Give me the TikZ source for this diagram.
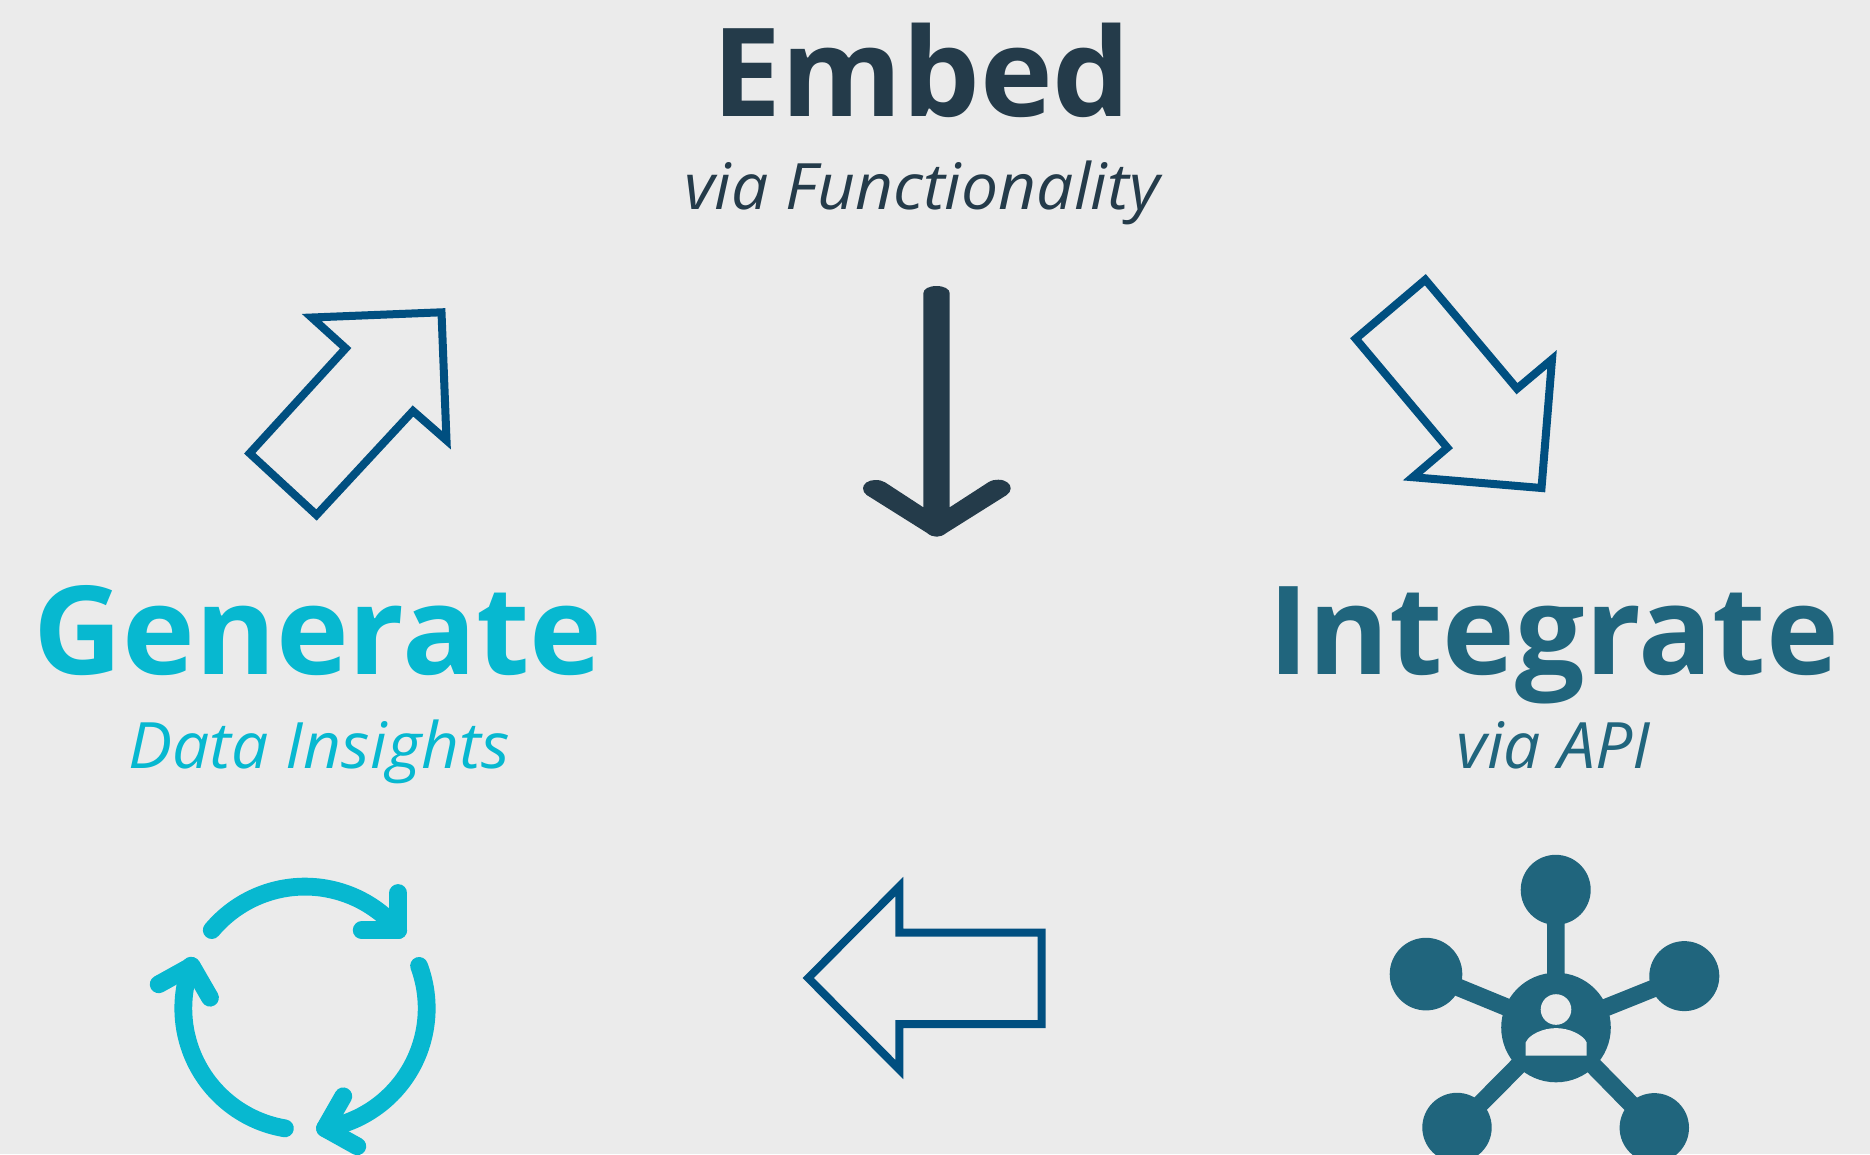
\documentclass[tikz,border=0pt]{standalone}
\usepackage{fontspec}
\setmainfont{Open Sans}
\definecolor{bg}{HTML}{EBEBEB}
\definecolor{navy}{HTML}{243B4A}
\definecolor{cyanb}{HTML}{07B8D0}
\definecolor{teal}{HTML}{20657D}
\definecolor{outl}{HTML}{004F80}
\begin{document}
\begin{tikzpicture}[x=1pt,y=-1pt,
 hd/.style={inner sep=0pt,anchor=base,font=\fontsize{123}{123}\selectfont\bfseries},
 sb/.style={inner sep=0pt,anchor=base,font=\fontsize{64}{64}\selectfont\itshape\addfontfeatures{FakeStretch=1.03,LetterSpace=0.1}},
 hollow/.style={draw=outl,line width=8pt,miter limit=12,fill=none},
 cyc/.style={draw=cyanb,line width=17.8pt,line cap=round,line join=round},
 spoke/.style={draw=teal,line width=17.6pt}]
\fill[bg] (0,0) rectangle (1870,1154);
\useasboundingbox (0,0) rectangle (1870,1154);
% texts
\node[hd,text=navy] (embed) at (921.5,116) {Embed};
\node[sb,text=navy] (func) at (922,209.5) {via Functionality};
\node[hd,text=cyanb] (gen) at (318,674.5) {Generate};
\node[sb,text=cyanb] (ins) at (319,768) {Data Insights};
\node[hd,text=teal] (integ) at (1553.5,674.5) {Integrate};
\node[sb,text=teal] (api) at (1553.6,768) {via API};
% down arrow
\fill[navy] (923.3,293.3) .. controls (923.3,289) and (929,286) .. (936.5,286)
  .. controls (944,286) and (949.7,289) .. (949.7,293.3) -- (949.7,507.3) -- (988.3,482.3)
  .. controls (992,480) and (995,479.7) .. (998.3,479.7)
  .. controls (1006,479.7) and (1010.7,484) .. (1010.7,488.3)
  .. controls (1010.7,491) and (1009,493.5) .. (1006.7,495) -- (946.7,532.7)
  .. controls (943,535.5) and (940,536.7) .. (936.7,536.7)
  .. controls (933,536.7) and (930,535.5) .. (926.7,532.7) -- (866.7,495)
  .. controls (864.5,493.5) and (863,491) .. (863,488.3)
  .. controls (863,484) and (868,480) .. (875,480)
  .. controls (879,480) and (882,480.5) .. (885,482.3) -- (923.3,507.3) -- cycle;
% hollow arrows
\draw[hollow] (441.5,312.3) -- (446.5,440.3) -- (413,411) -- (316.5,515) -- (249.7,453.3) -- (345.7,348.3) -- (311.7,317.5) -- cycle;
\draw[hollow] (1425.3,279.7) -- (1517,388.7) -- (1552,359.3) -- (1541.5,488) -- (1412.7,477.2) -- (1447.3,447.7) -- (1355.7,338.7) -- cycle;
\draw[hollow] (808.2,978) -- (899.3,886.5) -- (899.3,932.5) -- (1041.7,932.5) -- (1041.7,1024) -- (899.3,1024) -- (899.3,1069.5) -- cycle;
% cycle icon
\coordinate (cc) at (305,1008.3);
\draw[cyc] ([shift={(-140:121.7)}]cc) arc[start angle=-140,end angle=-40,radius=121.7];
\draw[cyc] ([shift={(-20.4:121.7)}]cc) arc[start angle=-20.4,end angle=80.5,radius=121.7];
\draw[cyc] ([shift={(99.5:121.7)}]cc) arc[start angle=99.5,end angle=200.5,radius=121.7];
\draw[cyc] (398.3,893) -- (398.3,930.3) -- (361.7,930.3);
\draw[cyc] (343.3,1096.3) -- (325,1128.3) -- (357.3,1146.3);
\draw[cyc] (158.7,984.3) -- (191.7,966) -- (210,997.7);
% network icon
\coordinate (hub) at (1556,1027.5);
\coordinate (nt) at (1555.7,889.8);
\coordinate (nl) at (1426,974.1);
\coordinate (nr) at (1684.3,976.1);
\coordinate (nbl) at (1457,1127.5);
\coordinate (nbr) at (1654.3,1127.8);
\draw[spoke] (hub) -- (nt);
\draw[spoke] (hub) -- (nl);
\draw[spoke] (hub) -- (nr);
\draw[spoke] (hub) -- (nbl);
\draw[spoke] (hub) -- (nbr);
\fill[teal] (hub) circle[radius=54.8];
\fill[teal] (nt) circle[radius=35];
\fill[teal] (nl) circle[radius=36.3];
\fill[teal] (nr) circle[radius=35];
\fill[teal] (nbl) circle[radius=34.7];
\fill[teal] (nbr) circle[radius=34.7];
\fill[bg] (1556,1009.5) circle[radius=15.3];
\fill[bg] (1525.7,1055.5) -- (1525.7,1042.5) .. controls (1529,1034.5) and (1543,1028.1) .. (1556,1028.1)
  .. controls (1569,1028.1) and (1583,1034.5) .. (1586.7,1042.5) -- (1586.7,1055.5) -- cycle;
\end{tikzpicture}
\end{document}
